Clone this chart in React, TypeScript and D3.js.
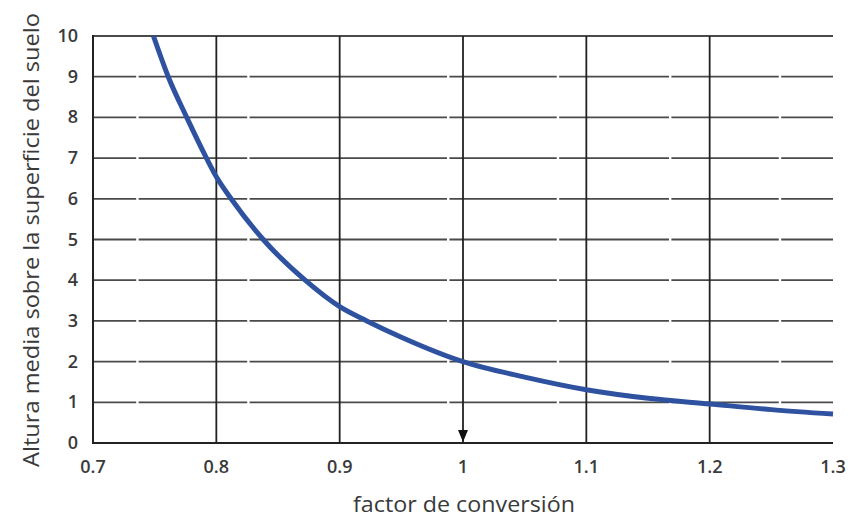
import React, { useRef, useEffect } from "react";
import * as d3 from "d3";

// curve: factor de conversión -> altura (m)
const factorValues = [0.749, 0.761, 0.776, 0.792, 0.8, 0.812, 0.838, 0.872, 0.9, 0.922, 0.95, 1.0, 1.05, 1.1, 1.15, 1.2, 1.25, 1.3];
const heightValues = [10, 9, 8, 7, 6.54, 6, 5, 4, 3.35, 3, 2.6, 2.0, 1.62, 1.31, 1.1, 0.96, 0.82, 0.71];

const xTicks = [0.7, 0.8, 0.9, 1, 1.1, 1.2, 1.3];
const xTickLabels = ["0.7", "0.8", "0.9", "1", "1.1", "1.2", "1.3"];
const yTicks = [0, 1, 2, 3, 4, 5, 6, 7, 8, 9, 10];
// small breaks in the horizontal grid lines of the original scan
const gridGaps = [0.736, 0.826, 0.988, 1.077, 1.168, 1.257];
const markerX = 1.0;

const xTitle = "factor de conversión";
const yTitle = "Altura media sobre la superficie del suelo";

const App = () => {
  const svgRef = useRef(null);
  const width = 852;
  const height = 523;

  useEffect(() => {
    const svg = d3.select(svgRef.current);
    svg.selectAll("*").remove();

    const x = d3.scaleLinear().domain([0.7, 1.3]).range([93, 833]);
    const y = d3.scaleLinear().domain([0, 10]).range([443, 36]);
    const font = "'Open Sans', 'Noto Sans', sans-serif";

    // horizontal grid
    const hg = svg.append("g");
    hg.selectAll("line")
      .data(yTicks.filter(d => d > 0))
      .enter()
      .append("line")
      .attr("x1", x(0.7))
      .attr("x2", x(1.3))
      .attr("y1", d => y(d))
      .attr("y2", d => y(d))
      .attr("stroke", "#4a4a4a")
      .attr("stroke-width", 1.8);

    // gaps in horizontal lines
    yTicks.filter(d => d > 0 && d < 10).forEach(t => {
      hg.selectAll(null)
        .data(gridGaps)
        .enter()
        .append("rect")
        .attr("x", d => x(d) - 1.2)
        .attr("y", y(t) - 2)
        .attr("width", 2.4)
        .attr("height", 4)
        .attr("fill", "#fff");
    });

    // vertical grid
    svg.append("g")
      .selectAll("line")
      .data(xTicks.filter(d => d > 0.7 && d < 1.3))
      .enter()
      .append("line")
      .attr("x1", d => x(d))
      .attr("x2", d => x(d))
      .attr("y1", y(10))
      .attr("y2", y(0))
      .attr("stroke", "#222")
      .attr("stroke-width", 1.8);

    // left & bottom axes lines
    svg.append("line")
      .attr("x1", x(0.7)).attr("x2", x(0.7))
      .attr("y1", y(10) - 1).attr("y2", y(0) + 1)
      .attr("stroke", "#222").attr("stroke-width", 2);
    svg.append("line")
      .attr("x1", x(0.7) - 1).attr("x2", x(1.3))
      .attr("y1", y(0)).attr("y2", y(0))
      .attr("stroke", "#222").attr("stroke-width", 2);

    // arrow at factor 1
    svg.append("path")
      .attr("d", `M${x(markerX) - 5},${y(0) - 13} L${x(markerX) + 5},${y(0) - 13} L${x(markerX)},${y(0) - 1} Z`)
      .attr("fill", "#111");

    // curve
    const line = d3.line()
      .x(d => x(d[0]))
      .y(d => y(d[1]))
      .curve(d3.curveMonotoneX);
    const pts = factorValues.map((f, i) => [f, heightValues[i]]);
    svg.append("path")
      .datum(pts)
      .attr("d", line)
      .attr("fill", "none")
      .attr("stroke", "#2f52a0")
      .attr("stroke-width", 5)
      .attr("stroke-linecap", "butt");

    // tick labels
    svg.append("g")
      .selectAll("text")
      .data(yTicks)
      .enter()
      .append("text")
      .attr("x", 78)
      .attr("y", d => y(d) + 6)
      .attr("text-anchor", "end")
      .attr("font-family", font)
      .attr("font-size", 18)
      .attr("font-weight", 600)
      .attr("fill", "#3a3a3a")
      .text(d => d);

    svg.append("g")
      .selectAll("text")
      .data(xTicks)
      .enter()
      .append("text")
      .attr("x", d => x(d))
      .attr("y", 473)
      .attr("text-anchor", "middle")
      .attr("font-family", font)
      .attr("font-size", 18)
      .attr("font-weight", 600)
      .attr("fill", "#3a3a3a")
      .text((d, i) => xTickLabels[i]);

    // titles
    svg.append("text")
      .attr("x", 464)
      .attr("y", 512)
      .attr("text-anchor", "middle")
      .attr("font-family", font)
      .attr("font-size", 22)
      .attr("textLength", 222)
      .attr("lengthAdjust", "spacingAndGlyphs")
      .attr("fill", "#3a3a3a")
      .text(xTitle);

    svg.append("text")
      .attr("transform", "translate(39,240) rotate(-90)")
      .attr("text-anchor", "middle")
      .attr("font-family", font)
      .attr("font-size", 21)
      .attr("textLength", 454)
      .attr("lengthAdjust", "spacingAndGlyphs")
      .attr("fill", "#3a3a3a")
      .text(yTitle);
  }, []);

  return (
    <div style={{ position: "absolute", left: 0, top: 0, width: width, height: height, overflow: "hidden" }}>
      <svg ref={svgRef} width={width} height={height} style={{ display: "block" }}></svg>
    </div>
  );
};

export default App;
